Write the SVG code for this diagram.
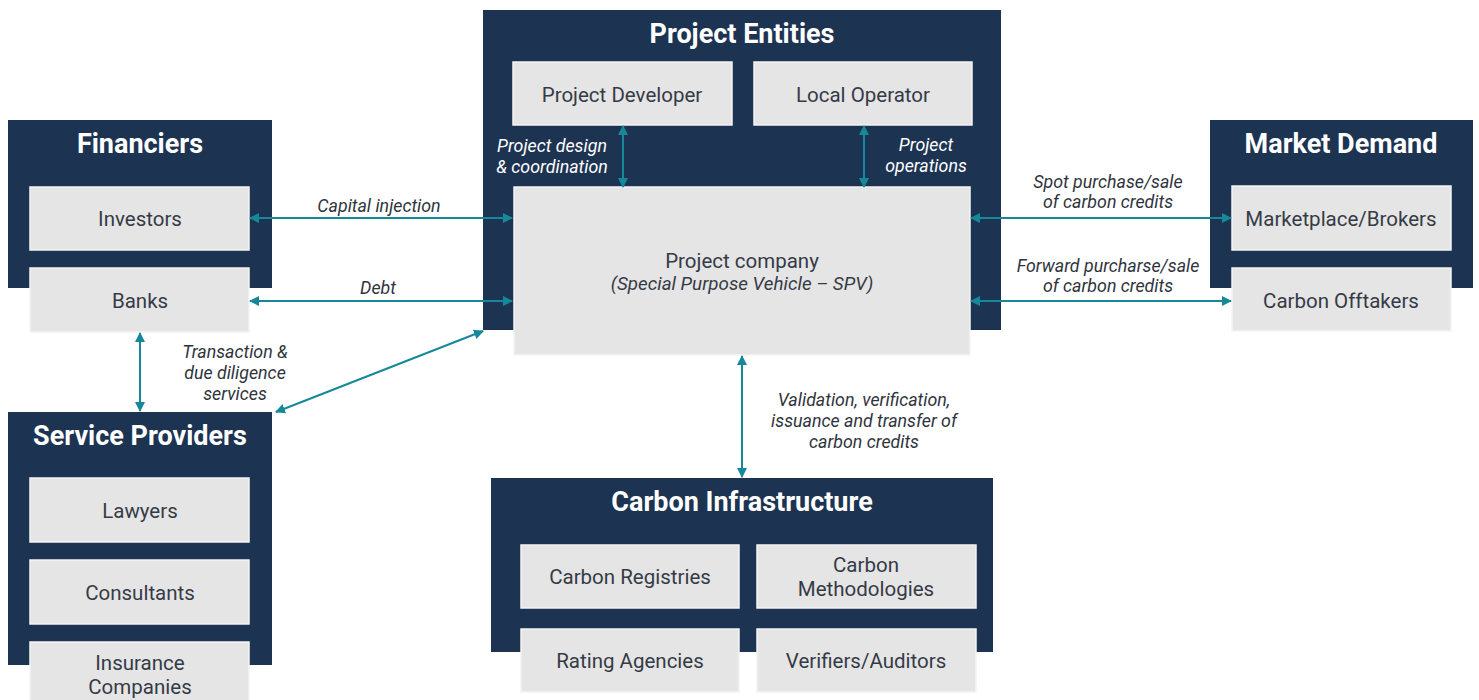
<svg xmlns="http://www.w3.org/2000/svg" width="1479" height="700" viewBox="0 0 1479 700">
  <defs>
    <marker id="arr" viewBox="0 0 10 10" refX="9" refY="5" markerWidth="10" markerHeight="10" markerUnits="userSpaceOnUse" orient="auto-start-reverse">
      <path d="M0,0 L10,5 L0,10 z" fill="#17889a"/>
    </marker>
    <style>
      .panel { fill: #1d3352; }
      .box { fill: #e5e5e5; stroke: #f3f3f3; stroke-width: 1.5; }
      .title { font-family: Roboto, "Liberation Sans", sans-serif; font-weight: bold; font-size: 27px; fill: #ffffff; text-anchor: middle; }
      .item { font-family: Roboto, "Liberation Sans", sans-serif; font-size: 20.5px; fill: #353b46; text-anchor: middle; }
      .item-sub { font-style: italic; font-size: 18.8px; }
      .lbl { font-family: Roboto, "Liberation Sans", sans-serif; font-style: italic; font-size: 17.8px; fill: #2f343c; text-anchor: middle; }
      .lbl-light { fill: #ffffff; }
      .conn { stroke: #17889a; stroke-width: 2; fill: none; marker-start: url(#arr); marker-end: url(#arr); }
    </style>
  </defs>
  <rect width="1479" height="700" fill="#ffffff"/>

  <!-- Financiers -->
  <g id="financiers">
    <rect class="panel" x="8" y="120" width="264" height="168"/>
    <text class="title" x="140" y="153">Financiers</text>
    <rect class="box" x="30" y="187" width="219" height="63"/>
    <text class="item" x="140" y="226">Investors</text>
    <rect class="box" x="30" y="268" width="219" height="64"/>
    <text class="item" x="140" y="308">Banks</text>
  </g>

  <!-- Project Entities -->
  <g id="project-entities">
    <rect class="panel" x="483" y="10" width="518" height="320"/>
    <text class="title" x="742" y="43">Project Entities</text>
    <rect class="box" x="513" y="62" width="219" height="63"/>
    <text class="item" x="622" y="102">Project Developer</text>
    <rect class="box" x="754" y="62" width="218" height="63"/>
    <text class="item" x="863" y="102">Local Operator</text>
    <rect class="box" x="514" y="187" width="456" height="168"/>
    <text class="item" x="742" y="268">Project company</text>
    <text class="item item-sub" x="742" y="290">(Special Purpose Vehicle – SPV)</text>
  </g>

  <!-- Market Demand -->
  <g id="market-demand">
    <rect class="panel" x="1210" y="120" width="263" height="168"/>
    <text class="title" x="1341" y="153">Market Demand</text>
    <rect class="box" x="1232" y="186" width="219" height="64"/>
    <text class="item" x="1341" y="226">Marketplace/Brokers</text>
    <rect class="box" x="1232" y="268" width="219" height="63"/>
    <text class="item" x="1341" y="308">Carbon Offtakers</text>
  </g>

  <!-- Service Providers -->
  <g id="service-providers">
    <rect class="panel" x="8" y="412" width="264" height="253"/>
    <text class="title" x="140" y="445">Service Providers</text>
    <rect class="box" x="30" y="478" width="219" height="64"/>
    <text class="item" x="140" y="518">Lawyers</text>
    <rect class="box" x="30" y="560" width="219" height="64"/>
    <text class="item" x="140" y="600">Consultants</text>
    <rect class="box" x="30" y="642" width="219" height="64"/>
    <text class="item" x="140" y="670">Insurance</text>
    <text class="item" x="140" y="694">Companies</text>
  </g>

  <!-- Carbon Infrastructure -->
  <g id="carbon-infrastructure">
    <rect class="panel" x="491" y="478" width="502" height="174"/>
    <text class="title" x="742" y="511">Carbon Infrastructure</text>
    <rect class="box" x="521" y="545" width="218" height="63"/>
    <text class="item" x="630" y="584">Carbon Registries</text>
    <rect class="box" x="757" y="545" width="219" height="63"/>
    <text class="item" x="866" y="572">Carbon</text>
    <text class="item" x="866" y="596">Methodologies</text>
    <rect class="box" x="521" y="629" width="218" height="63"/>
    <text class="item" x="630" y="668">Rating Agencies</text>
    <rect class="box" x="757" y="629" width="219" height="63"/>
    <text class="item" x="866" y="668">Verifiers/Auditors</text>
  </g>

  <!-- Connectors -->
  <g id="connectors">
    <line class="conn" x1="250" y1="218" x2="512" y2="218"/>
    <line class="conn" x1="250" y1="301" x2="512" y2="301"/>
    <line class="conn" x1="140" y1="333" x2="140" y2="411"/>
    <line class="conn" x1="276" y1="412" x2="483" y2="331"/>
    <line class="conn" x1="623" y1="126" x2="623" y2="187"/>
    <line class="conn" x1="864" y1="126" x2="864" y2="187"/>
    <line class="conn" x1="971" y1="218" x2="1231" y2="218"/>
    <line class="conn" x1="971" y1="301" x2="1231" y2="301"/>
    <line class="conn" x1="742" y1="356" x2="742" y2="477"/>
  </g>

  <!-- Connector labels -->
  <g id="labels">
    <text class="lbl" x="379" y="212">Capital injection</text>
    <text class="lbl" x="378" y="294">Debt</text>
    <text class="lbl" x="235" y="358">Transaction &amp;</text>
    <text class="lbl" x="235" y="379">due diligence</text>
    <text class="lbl" x="235" y="400">services</text>
    <text class="lbl lbl-light" x="552" y="152">Project design</text>
    <text class="lbl lbl-light" x="552" y="173">&amp; coordination</text>
    <text class="lbl lbl-light" x="926" y="151">Project</text>
    <text class="lbl lbl-light" x="926" y="172">operations</text>
    <text class="lbl" x="1108" y="188">Spot purchase/sale</text>
    <text class="lbl" x="1108" y="208">of carbon credits</text>
    <text class="lbl" x="1108" y="272">Forward purcharse/sale</text>
    <text class="lbl" x="1108" y="292">of carbon credits</text>
    <text class="lbl" x="864" y="406">Validation, verification,</text>
    <text class="lbl" x="864" y="427">issuance and transfer of</text>
    <text class="lbl" x="864" y="448">carbon credits</text>
  </g>
</svg>
